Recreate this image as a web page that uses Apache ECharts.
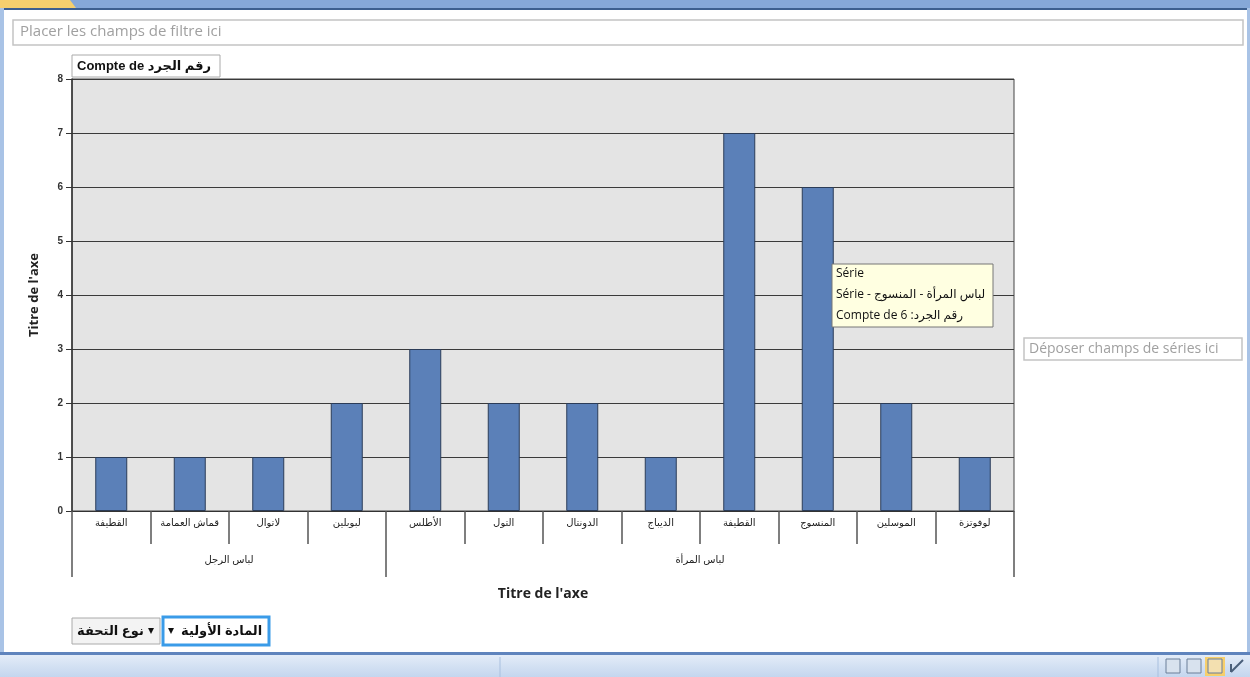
<!DOCTYPE html>
<html>
<head>
<meta charset="utf-8">
<script src="https://cdn.jsdelivr.net/npm/echarts@6/dist/echarts.min.js"></script>
<style>
html,body{margin:0;padding:0;background:#fff;}
#c{width:1250px;height:677px;}
</style>
</head>
<body>
<div id="c"></div>
<script>
// Data
const categories = ['القطيفة','قماش العمامة','لاتوال','لبوبلين','الأطلس','التول','الدونتال','الديباج','القطيفة','المنسوج','الموسلين','لوفوتزة'];
const values = [1,1,1,2,3,2,2,1,7,6,2,1];
const groupNames = ['لباس الرجل','لباس المرأة'];
const groupSizes = [4,8];
const yTicks = [0,1,2,3,4,5,6,7,8];

const FONT = "'Liberation Sans','DejaVu Sans',sans-serif";
const UI = "'Open Sans','DejaVu Sans',sans-serif";

const total = groupSizes.reduce((a,b)=>a+b,0);
const bounds = [0]; groupSizes.forEach(s=>bounds.push(bounds[bounds.length-1]+s));
const centers = groupSizes.map((s,i)=>bounds[i]+s/2);

const chart = echarts.init(document.getElementById('c'));
chart.setOption({
  backgroundColor:'#ffffff',
  animation:false,
  grid:{left:72,right:236,top:79,bottom:166,show:true,backgroundColor:'#e4e4e4',borderColor:'#444',borderWidth:1},
  xAxis:[
    {type:'category',data:categories,position:'bottom',
     axisLine:{show:true,lineStyle:{color:'#333',width:1}},
     axisTick:{show:true,interval:0,length:33,lineStyle:{color:'#555',width:1.5}},
     axisLabel:{interval:0,margin:7,fontSize:10,color:'#222',fontFamily:FONT},
     name:"Titre de l'axe",nameLocation:'middle',nameGap:76,
     nameTextStyle:{fontSize:14,fontWeight:'bold',color:'#222',fontFamily:UI}},
    {type:'value',min:0,max:total,position:'bottom',
     axisLine:{show:false},splitLine:{show:false},
     axisTick:{show:true,customValues:bounds,length:66,lineStyle:{color:'#555',width:1.5}},
     axisLabel:{show:true,customValues:centers,margin:44,fontSize:10,color:'#222',fontFamily:FONT,
       formatter:function(v){const i=centers.indexOf(v);return i>=0?groupNames[i]:'';}}}
  ],
  yAxis:{type:'value',min:0,max:8,interval:1,
    axisLine:{show:true,lineStyle:{color:'#333',width:1.5}},
    axisTick:{show:true,length:6,lineStyle:{color:'#333'}},
    axisLabel:{fontSize:10,fontWeight:'bold',color:'#333',margin:9,fontFamily:FONT,
      formatter:function(v){return yTicks.indexOf(v)>=0?String(v):'';}},
    splitLine:{show:true,lineStyle:{color:'#3a3a3a',width:1.2}},
    name:"Titre de l'axe",nameLocation:'middle',nameGap:31,
    nameTextStyle:{fontSize:13,fontWeight:'bold',color:'#222',fontFamily:UI}},
  series:[{type:'bar',data:values,xAxisIndex:0,barWidth:32,
    itemStyle:{color:'#5b80b8',borderColor:'#2b3c58',borderWidth:1}}],
  graphic:[
    // window chrome
    {type:'rect',shape:{x:0,y:0,width:1250,height:8},style:{fill:'#86a8d8'},silent:true},
    {type:'polygon',shape:{points:[[0,0],[70,0],[76,8],[0,8]]},style:{fill:'#f5cf6e'},silent:true},
    {type:'rect',shape:{x:0,y:8,width:1250,height:2},style:{fill:'#3d5f8f'},silent:true},
    {type:'rect',shape:{x:0,y:8,width:4,height:647},style:{fill:'#a9c3e6'},silent:true},
    {type:'rect',shape:{x:1247,y:8,width:3,height:647},style:{fill:'#a9c3e6'},silent:true},
    // filter box
    {type:'rect',shape:{x:13,y:20,width:1230,height:25},style:{fill:'#fff',stroke:'#c4c4c4',lineWidth:1.5},silent:true},
    {type:'text',x:20,y:32,style:{text:'Placer les champs de filtre ici',fill:'#a0a0a0',font:'15px '+UI,textVerticalAlign:'middle'},silent:true},
    // series drop zone
    {type:'rect',shape:{x:1024,y:338,width:218,height:22},style:{fill:'#fff',stroke:'#c4c4c4',lineWidth:1.5},silent:true},
    {type:'text',x:1029,y:349,style:{text:'Déposer champs de séries ici',fill:'#a0a0a0',font:'14px '+UI,textVerticalAlign:'middle'},silent:true},
    // value field button
    {type:'rect',shape:{x:72,y:55,width:148,height:22},style:{fill:'#fff',stroke:'#aaa',lineWidth:1},silent:true},
    {type:'text',x:77,y:66,style:{text:'Compte de رقم الجرد',fill:'#111',font:'bold 13px '+FONT,textVerticalAlign:'middle'},silent:true},
    // tooltip
    {type:'rect',shape:{x:832,y:264,width:161,height:63},style:{fill:'#ffffe1',stroke:'#777',lineWidth:1},z:100,silent:true},
    {type:'text',x:836,y:274,style:{text:'Série',fill:'#111',font:'12px '+UI,textVerticalAlign:'middle'},z:101,silent:true},
    {type:'text',x:836,y:295,style:{text:'Série - لباس المرأة - المنسوج',fill:'#111',font:'12px '+UI,textVerticalAlign:'middle'},z:101,silent:true},
    {type:'text',x:836,y:316,style:{text:'Compte de رقم الجرد: 6',fill:'#111',font:'12px '+UI,textVerticalAlign:'middle'},z:101,silent:true},
    // axis field buttons
    {type:'rect',shape:{x:72,y:618,width:88,height:26},style:{fill:'#f3f3f3',stroke:'#aaa',lineWidth:1},silent:true},
    {type:'text',x:77,y:631,style:{text:'نوع التحفة',fill:'#111',font:'bold 13px '+FONT,textVerticalAlign:'middle'},silent:true},
    {type:'text',x:148,y:631,style:{text:'▾',fill:'#111',font:'12px '+FONT,textVerticalAlign:'middle'},silent:true},
    {type:'rect',shape:{x:163,y:617,width:106,height:28},style:{fill:'#fff',stroke:'#3a9be8',lineWidth:3},silent:true},
    {type:'text',x:168,y:631,style:{text:'▾',fill:'#111',font:'12px '+FONT,textVerticalAlign:'middle'},silent:true},
    {type:'text',x:181,y:631,style:{text:'المادة الأولية',fill:'#111',font:'bold 13px '+FONT,textVerticalAlign:'middle'},silent:true},
    // status bar
    {type:'rect',shape:{x:0,y:652,width:1250,height:3},style:{fill:'#5f84bd'},silent:true},
    {type:'rect',shape:{x:0,y:655,width:1250,height:22},style:{fill:new echarts.graphic.LinearGradient(0,0,0,1,[{offset:0,color:'#e3ecf8'},{offset:1,color:'#c4d6ee'}])},silent:true},
    {type:'line',shape:{x1:500,y1:657,x2:500,y2:677},style:{stroke:'#a8bfdf'},silent:true},
    {type:'line',shape:{x1:1158,y1:657,x2:1158,y2:677},style:{stroke:'#a8bfdf'},silent:true},
    {type:'rect',shape:{x:1166,y:659,width:14,height:14},style:{fill:'#d8e2ee',stroke:'#6a7f99'},silent:true},
    {type:'rect',shape:{x:1187,y:659,width:14,height:14},style:{fill:'#d8e2ee',stroke:'#6a7f99'},silent:true},
    {type:'rect',shape:{x:1205,y:657,width:20,height:19},style:{fill:'#f7cf6b'},silent:true},
    {type:'rect',shape:{x:1208,y:659,width:14,height:14},style:{fill:'#f3e0b0',stroke:'#6a7f99'},silent:true},
    {type:'line',shape:{x1:1231,y1:672,x2:1243,y2:660},style:{stroke:'#4a5f7a',lineWidth:2},silent:true},
    {type:'line',shape:{x1:1231,y1:672,x2:1231,y2:664},style:{stroke:'#4a5f7a',lineWidth:2},silent:true}
  ]
});
</script>
</body>
</html>
